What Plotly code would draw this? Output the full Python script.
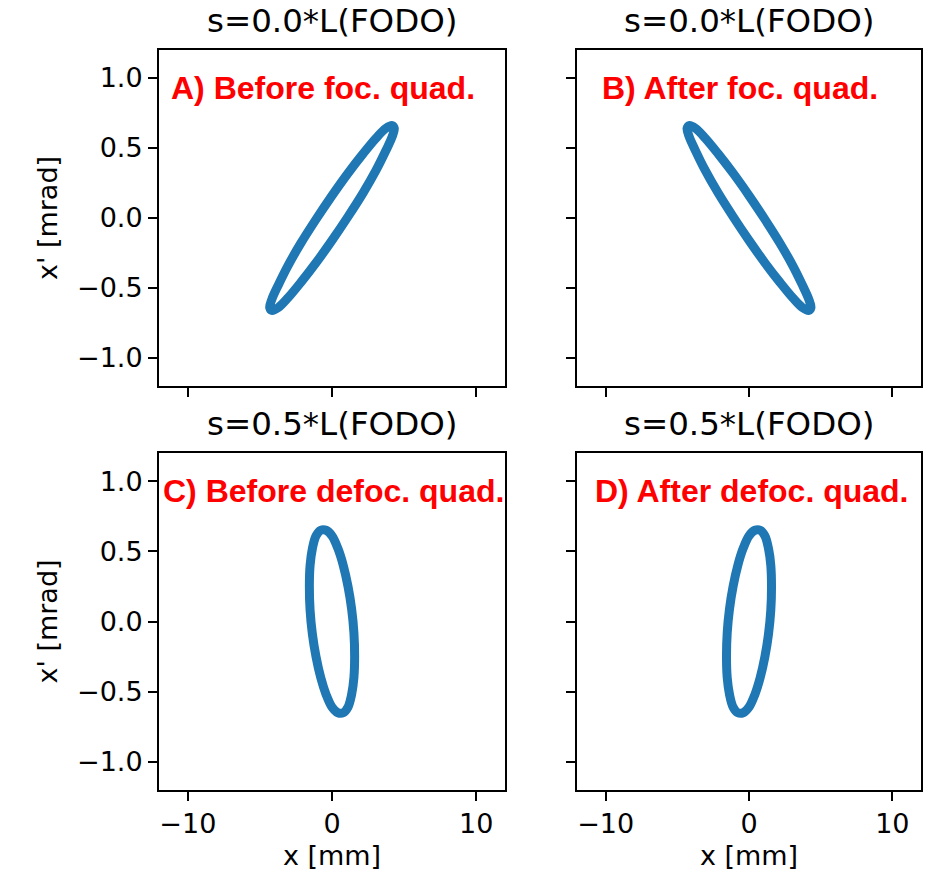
import plotly.graph_objects as go

# Phase-space ellipses (x in mm, x' in mrad) at four positions in the FODO cell
ellipse_a_x = [0.0, -1.11, -2.16, -3.05, -3.73, -4.17, -4.32, -4.17, -3.73, -3.05, -2.16, -1.11,
               0.0, 1.11, 2.16, 3.05, 3.73, 4.17, 4.32, 4.17, 3.73, 3.05, 2.16, 1.11, 0.0]
ellipse_a_xp = [-0.16, -0.32, -0.46, -0.57, -0.64, -0.66, -0.64, -0.58, -0.48, -0.34, -0.18, -0.01,
                0.16, 0.32, 0.46, 0.57, 0.64, 0.66, 0.64, 0.58, 0.48, 0.34, 0.18, 0.01, -0.16]

ellipse_b_x = [0.0, 1.11, 2.16, 3.05, 3.73, 4.17, 4.32, 4.17, 3.73, 3.05, 2.16, 1.11,
               0.0, -1.11, -2.16, -3.05, -3.73, -4.17, -4.32, -4.17, -3.73, -3.05, -2.16, -1.11, 0.0]
ellipse_b_xp = [-0.16, -0.32, -0.46, -0.57, -0.64, -0.66, -0.64, -0.58, -0.48, -0.34, -0.18, -0.01,
                0.16, 0.32, 0.46, 0.57, 0.64, 0.66, 0.64, 0.58, 0.48, 0.34, 0.18, 0.01, -0.16]

ellipse_c_x = [1.57, 1.52, 1.36, 1.11, 0.78, 0.41, 0.0, -0.41, -0.78, -1.11, -1.36, -1.52,
               -1.57, -1.52, -1.36, -1.11, -0.78, -0.41, 0.0, 0.41, 0.78, 1.11, 1.36, 1.52, 1.57]
ellipse_c_xp = [-0.25, -0.40, -0.52, -0.61, -0.65, -0.65, -0.61, -0.52, -0.40, -0.25, -0.09, 0.08,
                0.25, 0.40, 0.52, 0.61, 0.65, 0.65, 0.61, 0.52, 0.40, 0.25, 0.09, -0.08, -0.25]

ellipse_d_x = [-1.57, -1.52, -1.36, -1.11, -0.78, -0.41, 0.0, 0.41, 0.78, 1.11, 1.36, 1.52,
               1.57, 1.52, 1.36, 1.11, 0.78, 0.41, 0.0, -0.41, -0.78, -1.11, -1.36, -1.52, -1.57]
ellipse_d_xp = [-0.25, -0.40, -0.52, -0.61, -0.65, -0.65, -0.61, -0.52, -0.40, -0.25, -0.09, 0.08,
                0.25, 0.40, 0.52, 0.61, 0.65, 0.65, 0.61, 0.52, 0.40, 0.25, 0.09, -0.08, -0.25]

panel_titles = ["s=0.0*L(FODO)", "s=0.0*L(FODO)", "s=0.5*L(FODO)", "s=0.5*L(FODO)"]
panel_labels = ["A) Before foc. quad.", "B) After foc. quad.",
                "C) Before defoc. quad.", "D) After defoc. quad."]

x_tickvals = [-10, 0, 10]
x_ticktext = ["\u221210", "0", "10"]
y_tickvals = [-1.0, -0.5, 0.0, 0.5, 1.0]
y_ticktext = ["\u22121.0", "\u22120.5", "0.0", "0.5", "1.0"]

W, H = 936, 877
BLUE = "#1f77b4"
TICK_FONT = dict(family="DejaVu Sans", size=27, color="black")


def px(x):
    return x / W


def py(y):
    return 1 - y / H


# panel boxes in pixels: (left, right, top, bottom)
boxes = [(159, 505, 50, 386), (577, 921, 50, 386),
         (159, 505, 453, 790), (577, 921, 453, 790)]
# left edge of the red panel labels, in pixels
label_left = [169, 600, 161, 593]

series = [(ellipse_a_x, ellipse_a_xp), (ellipse_b_x, ellipse_b_xp),
          (ellipse_c_x, ellipse_c_xp), (ellipse_d_x, ellipse_d_xp)]

fig = go.Figure()
layout = dict(
    width=W, height=H,
    margin=dict(l=0, r=0, t=0, b=0),
    paper_bgcolor="white", plot_bgcolor="white",
    showlegend=False,
)

annotations = []
for i, ((xs, ys), (l, r, t, b)) in enumerate(zip(series, boxes)):
    n = "" if i == 0 else str(i + 1)
    fig.add_trace(go.Scatter(
        x=xs, y=ys, mode="lines",
        line=dict(color=BLUE, width=9, shape="spline", smoothing=1),
        xaxis="x" + n, yaxis="y" + n, hoverinfo="skip",
    ))
    bottom_row = i >= 2
    left_col = i % 2 == 0
    layout["xaxis" + n] = dict(
        domain=[px(l), px(r)], anchor="y" + n, range=[-12, 12],
        tickvals=x_tickvals, ticktext=x_ticktext, showticklabels=bottom_row,
        ticks="outside", ticklen=9, tickwidth=2, tickcolor="black",
        showline=True, linecolor="black", linewidth=2, mirror=True,
        showgrid=False, zeroline=False, tickfont=TICK_FONT,
        title=dict(text="x [mm]" if bottom_row else "", font=TICK_FONT, standoff=8),
    )
    layout["yaxis" + n] = dict(
        domain=[py(b), py(t)], anchor="x" + n, range=[-1.2, 1.2],
        tickvals=y_tickvals, ticktext=y_ticktext, showticklabels=left_col,
        ticks="outside", ticklen=9, tickwidth=2, tickcolor="black",
        showline=True, linecolor="black", linewidth=2, mirror=True,
        showgrid=False, zeroline=False, tickfont=TICK_FONT,
        title=dict(text="x' [mrad]" if left_col else "", font=TICK_FONT, standoff=12),
    )
    annotations.append(dict(
        text=panel_titles[i], xref="paper", yref="paper",
        x=px((l + r) / 2), y=py(t - 8), xanchor="center", yanchor="bottom",
        showarrow=False, font=dict(family="DejaVu Sans", size=32.5, color="black"),
    ))
    annotations.append(dict(
        text="<b>" + panel_labels[i] + "</b>", xref="paper", yref="paper",
        x=px(label_left[i]), y=py(t + 38), xanchor="left", yanchor="middle",
        showarrow=False, font=dict(family="Liberation Sans", size=32, color="#ff0000"),
    ))

layout["annotations"] = annotations
fig.update_layout(**layout)
fig.write_html("out.html")
